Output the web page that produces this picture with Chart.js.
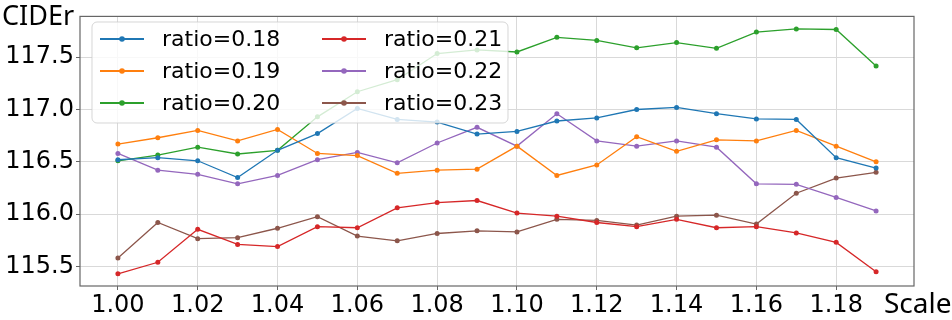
<!DOCTYPE html>
<html>
<head>
<meta charset="utf-8">
<script src="https://cdn.jsdelivr.net/npm/chart.js@4"></script>
<style>
  html, body { margin: 0; padding: 0; background: #fff; }
  #wrap { width: 952px; height: 320px; }
</style>
</head>
<body>
<div id="wrap"><canvas id="cider"></canvas></div>
<script>
// scale factors on the x axis
const scales = [1.00, 1.01, 1.02, 1.03, 1.04, 1.05, 1.06, 1.07, 1.08, 1.09,
                1.10, 1.11, 1.12, 1.13, 1.14, 1.15, 1.16, 1.17, 1.18, 1.19];
const xTicks = [1.00, 1.02, 1.04, 1.06, 1.08, 1.10, 1.12, 1.14, 1.16, 1.18];
const yTicks = [115.5, 116.0, 116.5, 117.0, 117.5];

// CIDEr per ratio
const r018 = [116.52, 116.54, 116.51, 116.35, 116.61, 116.77, 117.01, 116.905, 116.88, 116.765,
              116.79, 116.89, 116.92, 117.00, 117.02, 116.96, 116.91, 116.905, 116.54, 116.44];
const r019 = [116.67, 116.73, 116.80, 116.70, 116.81, 116.58, 116.56, 116.39, 116.42, 116.43,
              116.65, 116.37, 116.47, 116.74, 116.60, 116.71, 116.70, 116.80, 116.65, 116.50];
const r020 = [116.51, 116.565, 116.64, 116.575, 116.61, 116.93, 117.17, 117.285, 117.535, 117.57,
              117.55, 117.69, 117.66, 117.59, 117.64, 117.585, 117.74, 117.77, 117.765, 117.415];
const r021 = [115.43, 115.54, 115.855, 115.71, 115.69, 115.88, 115.87, 116.06, 116.11, 116.13,
              116.01, 115.98, 115.92, 115.88, 115.95, 115.87, 115.88, 115.82, 115.73, 115.45];
const r022 = [116.58, 116.42, 116.38, 116.29, 116.37, 116.52, 116.59, 116.49, 116.68, 116.83,
              116.65, 116.96, 116.70, 116.65, 116.70, 116.64, 116.29, 116.285, 116.16, 116.03];
const r023 = [115.58, 115.92, 115.765, 115.775, 115.865, 115.975, 115.79, 115.745, 115.815, 115.84,
              115.83, 115.95, 115.94, 115.895, 115.98, 115.99, 115.905, 116.20, 116.345, 116.40];

const labels = ['ratio=0.18', 'ratio=0.19', 'ratio=0.20', 'ratio=0.21', 'ratio=0.22', 'ratio=0.23'];
const colors = ['#1f77b4', '#ff7f0e', '#2ca02c', '#d62728', '#9467bd', '#8c564b'];
const series = [r018, r019, r020, r021, r022, r023];

const FONT = '"DejaVu Sans", sans-serif';
const LABEL_FONT = '"Noto Sans", sans-serif';

const datasets = series.map((vals, i) => ({
  label: labels[i],
  data: vals.map((v, j) => ({ x: scales[j], y: v })),
  borderColor: colors[i],
  backgroundColor: colors[i],
  borderWidth: 1.3,
  pointRadius: 2.5,
  pointBorderWidth: 0,
  pointHoverRadius: 2.5,
  tension: 0
}));

// legend drawn inside the plot, over the lines, like matplotlib
const insideLegend = {
  id: 'insideLegend',
  afterDatasetsDraw(chart) {
    const ctx = chart.ctx;
    ctx.save();
    const bx = 92, by = 22, bw = 416, bh = 101, rad = 5;
    ctx.beginPath();
    ctx.roundRect(bx, by, bw, bh, rad);
    ctx.fillStyle = 'rgba(255,255,255,0.8)';
    ctx.fill();
    ctx.strokeStyle = 'rgba(204,204,204,0.8)';
    ctx.lineWidth = 1;
    ctx.stroke();
    ctx.font = '22px ' + FONT;
    ctx.textBaseline = 'middle';
    ctx.fillStyle = '#000';
    const cols = [{ l0: 100, l1: 144, tx: 162 }, { l0: 322, l1: 366, tx: 384 }];
    const rows = [39, 71, 103];
    labels.forEach((lab, i) => {
      const c = cols[Math.floor(i / 3)];
      const y = rows[i % 3];
      ctx.strokeStyle = colors[i];
      ctx.lineWidth = 2;
      ctx.beginPath();
      ctx.moveTo(c.l0, y);
      ctx.lineTo(c.l1, y);
      ctx.stroke();
      ctx.fillStyle = colors[i];
      ctx.beginPath();
      ctx.arc((c.l0 + c.l1) / 2, y, 2.8, 0, Math.PI * 2);
      ctx.fill();
      ctx.fillStyle = '#000';
      ctx.fillText(lab, c.tx, y + 1);
    });
    ctx.restore();
  },
  afterDraw(chart) {
    const ctx = chart.ctx;
    const a = chart.chartArea;
    ctx.save();
    ctx.strokeStyle = '#666';
    ctx.lineWidth = 1.2;
    ctx.strokeRect(a.left, a.top, a.right - a.left, a.bottom - a.top);
    ctx.fillStyle = '#000';
    ctx.textBaseline = 'alphabetic';
    ctx.textAlign = 'left';
    ctx.font = '27px ' + LABEL_FONT;
    ctx.fillText('CIDEr', 2, 25);
    ctx.font = '28px ' + LABEL_FONT;
    ctx.fillText('Scale', 884, 313);
    ctx.restore();
  }
};

new Chart(document.getElementById('cider'), {
  type: 'line',
  data: { datasets },
  plugins: [insideLegend],
  options: {
    responsive: true,
    maintainAspectRatio: false,
    animation: false,
    layout: { padding: { left: 0, right: 38, top: 10, bottom: 0 } },
    plugins: { legend: { display: false }, tooltip: { enabled: false } },
    scales: {
      x: {
        type: 'linear',
        min: 0.9905,
        max: 1.1995,
        afterBuildTicks: s => { s.ticks = xTicks.map(v => ({ value: v })); },
        afterFit: s => { s.height = 34; },
        ticks: {
          color: '#000',
          font: { size: 24, family: FONT },
          padding: 1,
          maxRotation: 0,
          callback: v => Number(v).toFixed(2)
        },
        grid: { color: '#d9d9d9', lineWidth: 1, tickLength: 4, tickColor: '#666' },
        border: { display: false }
      },
      y: {
        min: 115.313,
        max: 117.89,
        afterBuildTicks: s => { s.ticks = yTicks.map(v => ({ value: v })); },
        afterFit: s => { s.width = 80; },
        ticks: {
          color: '#000',
          font: { size: 24, family: FONT },
          padding: 2,
          callback: v => Number(v).toFixed(1)
        },
        grid: { color: '#d9d9d9', lineWidth: 1, tickLength: 4, tickColor: '#666' },
        border: { display: false }
      }
    }
  }
});
</script>
</body>
</html>
